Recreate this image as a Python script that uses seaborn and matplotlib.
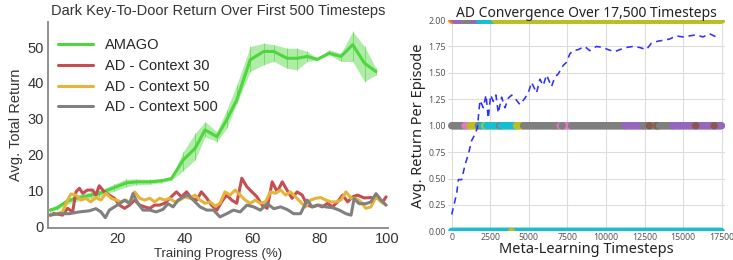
import numpy as np
import pandas as pd
import matplotlib
matplotlib.use("Agg")
import matplotlib.pyplot as plt
import seaborn as sns

# ---- left panel: Dark Key-To-Door, first 500 timesteps ----
amago_x = [0, 2.2, 4.7, 7.2, 9.7, 12.1, 14.6, 16.6, 19.1, 22.6, 25.6, 29.6, 33.0, 36.0,
           39.5, 43.0, 46.0, 49.5, 52.4, 55.4, 59.4, 63.4, 66.4, 70.3, 73.3, 76.3,
           79.3, 82.8, 86.3, 89.8, 93.3, 96.7]
amago_mean = [4.5, 5.2, 6.8, 7.7, 8.2, 8.7, 9.1, 9.9, 10.8, 12.1, 12.4, 12.4, 12.7, 13.3,
              18.5, 21.7, 26.9, 25.0, 29.7, 35.3, 46.5, 48.8, 48.8, 46.9, 46.9, 47.4,
              46.6, 48.3, 47.4, 50.7, 45.5, 43.2]
amago_low = [4.0, 4.6, 6.0, 6.8, 7.3, 7.8, 8.2, 9.0, 9.8, 11.0, 11.6, 11.7, 12.2, 12.8,
             15.5, 18.5, 25.0, 23.6, 27.3, 34.3, 43.2, 45.1, 46.0, 44.1, 43.7, 46.0,
             46.4, 47.9, 46.0, 46.0, 40.4, 42.3]
amago_high = [5.0, 5.8, 7.5, 8.6, 9.1, 9.6, 10.0, 10.8, 11.8, 13.2, 13.2, 13.1, 13.2, 13.8,
              20.8, 25.9, 29.2, 26.4, 32.5, 39.5, 50.2, 51.1, 50.7, 49.7, 49.7, 48.8,
              46.9, 49.3, 48.3, 54.4, 50.2, 44.1]

ctx30_x = [0, 1.2, 3.7, 5.2, 6.7, 7.7, 8.7, 9.7, 11.1, 12.6, 13.6, 14.6, 16.1, 17.6, 19.1,
           20.6, 22.1, 23.6, 25.1, 26.6, 28.1, 29.6, 31.0, 32.5, 34.0, 35.5, 37.5, 39.0,
           40.5, 42.0, 43.5, 44.9, 46.5, 47.9, 49.5, 50.9, 52.4, 53.9, 55.4, 56.9, 58.4,
           59.9, 61.4, 62.9, 64.4, 65.9, 67.4, 68.9, 70.3, 71.8, 73.3, 74.8, 76.3, 77.8,
           79.3, 80.8, 82.3, 83.8, 85.3, 86.8, 88.3, 89.8, 91.2, 93.2, 95.2, 97.2, 98.7, 99.7]
ctx30_y = [3.1, 3.6, 3.1, 5.0, 4.0, 9.6, 10.6, 9.2, 10.1, 10.1, 8.7, 11.3, 9.6, 8.7, 7.8,
           5.9, 5.0, 5.9, 7.3, 5.9, 5.4, 5.0, 5.9, 5.9, 6.4, 7.8, 9.6, 8.2,
           9.6, 7.8, 7.3, 9.6, 7.8, 5.9, 4.5, 6.8, 8.7, 7.3, 6.4, 13.4, 11.0,
           9.6, 8.2, 5.9, 5.0, 12.4, 9.6, 12.4, 10.1, 7.8, 9.6, 8.7, 5.9, 5.4,
           5.9, 5.4, 6.4, 5.4, 6.8, 8.7, 6.8, 8.2, 8.7, 7.9, 8.0, 7.8, 6.8, 8.2]

ctx50_x = [0, 1.7, 3.7, 5.2, 6.2, 7.7, 9.2, 10.6, 12.1, 13.6, 15.1, 16.6, 18.1, 19.6, 21.1,
           22.6, 23.6, 25.1, 26.6, 28.1, 29.6, 31.0, 32.5, 34.0, 35.5, 37.0, 38.5, 40.0,
           41.5, 43.0, 44.5, 46.0, 47.5, 49.0, 50.4, 51.9, 53.4, 54.9, 56.4, 57.9, 59.4,
           60.9, 62.4, 63.9, 65.4, 66.9, 68.4, 69.9, 71.3, 72.8, 74.3, 75.8, 77.3, 78.8,
           80.3, 81.8, 83.3, 84.8, 86.3, 87.8, 89.3, 90.7, 92.2, 93.7, 95.2, 96.7, 98.2, 99.7]
ctx50_y = [3.1, 3.4, 4.0, 7.3, 9.0, 8.7, 7.3, 7.8, 6.8, 8.0, 7.3, 9.2, 7.8, 7.3, 6.8,
           7.3, 6.4, 9.6, 7.8, 7.3, 7.8, 6.8, 7.8, 7.3, 7.8, 6.8, 7.3, 8.2,
           7.8, 8.7, 7.3, 6.4, 6.8, 5.6, 6.4, 9.6, 8.7, 10.1, 8.7, 7.3, 6.4,
           7.3, 6.4, 6.8, 9.6, 9.2, 10.1, 8.7, 9.6, 8.2, 6.8, 5.4, 7.3, 7.8,
           8.0, 7.3, 6.8, 6.8, 7.3, 9.6, 7.8, 7.8, 6.8, 5.0, 5.4, 8.2, 6.8, 5.9]

ctx500_x = [0, 2.7, 5.7, 8.7, 11.6, 13.6, 15.1, 16.4, 17.6, 19.1, 20.6, 22.1, 23.6, 24.6,
            26.1, 27.6, 29.6, 31.5, 33.5, 35.0, 36.5, 38.0, 39.5, 41.0, 42.5, 44.5, 46.5,
            48.5, 50.4, 52.4, 54.4, 56.4, 58.4, 60.4, 62.4, 64.4, 66.4, 68.4, 70.3, 72.3,
            74.3, 76.3, 77.8, 79.8, 81.8, 83.8, 85.8, 87.8, 89.3, 90.2, 91.7, 93.7, 95.2,
            96.7, 98.2, 99.7]
ctx500_y = [3.1, 3.5, 3.5, 4.0, 4.3, 4.9, 4.0, 2.4, 4.5, 5.4, 6.3, 7.3, 6.3, 9.1,
            6.3, 4.5, 4.5, 4.0, 4.7, 6.3, 5.4, 7.3, 8.2, 8.7, 7.3, 5.4, 4.5,
            4.5, 2.6, 3.5, 4.5, 4.0, 5.9, 5.4, 4.5, 6.3, 4.9, 5.4, 4.7, 3.5,
            3.5, 7.3, 5.4, 5.9, 5.4, 5.2, 4.5, 3.5, 3.1, 7.7, 6.3, 6.3, 6.8,
            9.1, 7.3, 5.9]

series_names = ["AMAGO", "AD - Context 30", "AD - Context 50", "AD - Context 500"]
series_colors = ["#4fd63f", "#c44e52", "#e6b43a", "#808080"]

# ---- right panel: AD convergence over 17,500 timesteps ----
conv_x = [0, 323, 430, 646, 862, 1077, 1293, 1508, 1659, 1832, 2047, 2220, 2370, 2521,
          2694, 2866, 3017, 3233, 3448, 3664, 3879, 4095, 4418, 4741, 4957, 5172, 5495,
          5711, 5927, 6142, 6466, 6681, 6897, 7220, 7435, 7651, 7866, 8190, 8621, 8944,
          9375, 9806, 10129, 10560, 10884, 11315, 11746, 12177, 12608, 12931, 13362,
          13793, 14116, 14547, 14978, 15409, 15841, 16272, 16703, 17134, 17349]
conv_y = [0.16, 0.36, 0.49, 0.49, 0.63, 0.73, 0.86, 0.92, 0.98, 1.24, 1.17, 1.29, 1.07, 1.29,
          1.23, 1.29, 1.12, 1.27, 1.17, 1.26, 1.29, 1.26, 1.20, 1.26, 1.31, 1.41, 1.31,
          1.44, 1.38, 1.48, 1.37, 1.46, 1.49, 1.57, 1.60, 1.68, 1.71, 1.72, 1.75, 1.71,
          1.75, 1.74, 1.72, 1.70, 1.72, 1.74, 1.75, 1.74, 1.72, 1.78, 1.80,
          1.81, 1.82, 1.85, 1.84, 1.85, 1.86, 1.84, 1.87, 1.84, 1.85]

# per-episode returns, runs of consecutive timesteps: (start, end, return, run)
ep_start = [0, 0, 200, 800, 1500, 1800, 2800,
            0, 860, 1190, 1720, 1950, 2150, 2370, 3100, 3230, 4200, 4650, 7030, 7200, 7330,
            7760, 11200, 12400, 13300, 13450, 14300]
ep_end = [17500, 200, 800, 1500, 1800, 2800, 17500,
          860, 1190, 1720, 1950, 2150, 2370, 3100, 3230, 4200, 4650, 7030, 7200, 7330, 7760,
          11200, 12400, 13300, 13450, 14300, 17500]
ep_return = [0, 2, 2, 2, 2, 2, 2,
             1, 1, 1, 1, 1, 1, 1, 1, 1, 1, 1, 1, 1, 1,
             1, 1, 1, 1, 1, 1]
ep_run = ["run 9", "run 1", "run 4", "run 7", "run 4", "run 9", "run 8",
          "run 7", "run 6", "run 8", "run 7", "run 9", "run 8", "run 9", "run 7", "run 9",
          "run 8", "run 7", "run 6", "run 7", "run 6",
          "run 7", "run 4", "run 7", "run 5", "run 7", "run 4"]
dot_x = [12800, 15800, 17000, 7150, 2270, 3880]
dot_y = [1, 1, 1, 1, 1, 0]
dot_run = ["run 5", "run 5", "run 5", "run 7", "run 9", "run 8"]
run_colors = {"run 0": "#1f77b4", "run 1": "#ff7f0e", "run 2": "#2ca02c", "run 3": "#d62728",
              "run 4": "#9467bd", "run 5": "#8c564b", "run 6": "#e377c2", "run 7": "#7f7f7f",
              "run 8": "#bcbd22", "run 9": "#17becf"}

# ---------------------------------------------------------------
fig = plt.figure(figsize=(7.33, 2.6), dpi=100)

# left panel
sns.set_style("white")
plt.rcParams["font.family"] = ["Liberation Sans", "DejaVu Sans"]
ax1 = fig.add_axes([0.0655, 0.123, 0.464, 0.792])

rows = []
for name, xs, ys in [(series_names[0], amago_x, amago_mean), (series_names[1], ctx30_x, ctx30_y),
                     (series_names[2], ctx50_x, ctx50_y), (series_names[3], ctx500_x, ctx500_y)]:
    rows.append(pd.DataFrame({"x": xs, "y": ys, "series": name}))
left_df = pd.concat(rows, ignore_index=True)

ax1.fill_between(amago_x, amago_low, amago_high, color=series_colors[0], alpha=0.45, lw=0)
ax1.vlines(amago_x, amago_low, amago_high, color=series_colors[0], lw=0.6, alpha=0.7)
sns.lineplot(data=left_df, x="x", y="y", hue="series", hue_order=series_names,
             palette=dict(zip(series_names, series_colors)), lw=2.2, ax=ax1,
             estimator=None, sort=False)

ax1.set_xlim(-0.6, 100.3)
ax1.set_ylim(-0.5, 57)
ax1.set_xticks([20, 40, 60, 80, 100])
ax1.set_yticks([0, 10, 20, 30, 40, 50])
ax1.tick_params(labelsize=10.5, colors="#333333", length=0, pad=3)
for s in ["top", "right"]:
    ax1.spines[s].set_visible(False)
for s in ["left", "bottom"]:
    ax1.spines[s].set_color("#888888")
    ax1.spines[s].set_linewidth(1.3)
ax1.set_title("Dark Key-To-Door Return Over First 500 Timesteps", fontsize=10.5, color="#333333", pad=5)
ax1.set_xlabel("Training Progress (%)", fontsize=9.5, color="#333333", labelpad=1)
ax1.set_ylabel("Avg. Total Return", fontsize=10.5, color="#333333", labelpad=3)
ax1.legend(loc="upper left", frameon=False, fontsize=10.5, handlelength=2.4,
           labelspacing=0.45, borderaxespad=0.3, handletextpad=0.8, bbox_to_anchor=(0.0, 0.97))

# right panel
sns.set_style("whitegrid")
plt.rcParams["font.family"] = ["Noto Sans", "DejaVu Sans"]
ax2 = fig.add_axes([0.611, 0.11, 0.378, 0.813])

pts = []
for a, b, r, run in zip(ep_start, ep_end, ep_return, ep_run):
    xs = np.arange(a, b + 1, 60)
    pts.append(pd.DataFrame({"t": xs, "ret": float(r), "run": run}))
pts.append(pd.DataFrame({"t": dot_x, "ret": dot_y, "run": dot_run}))
right_df = pd.concat(pts, ignore_index=True)

sns.scatterplot(data=right_df, x="t", y="ret", hue="run", palette=run_colors, s=28,
                linewidth=0, legend=False, ax=ax2)
sns.lineplot(x=conv_x, y=conv_y, color="#2f2fff", lw=1.15, ax=ax2, estimator=None)
ax2.lines[-1].set_dashes((4, 3))

ax2.set_xlim(-250, 17700)
ax2.set_ylim(0, 2)
ax2.set_xticks(np.arange(0, 17501, 2500))
ax2.set_yticks(np.arange(0, 2.01, 0.25))
ax2.yaxis.set_major_formatter(matplotlib.ticker.FormatStrFormatter("%.2f"))
ax2.grid(color="#dddddd", lw=0.8)
ax2.tick_params(labelsize=6.3, colors="#555555", length=0, pad=1.5)
for s in ax2.spines.values():
    s.set_visible(False)
ax2.set_title("AD Convergence Over 17,500 Timesteps", fontsize=10, color="#222222", pad=2)
ax2.set_xlabel("Meta-Learning Timesteps", fontsize=10.5, color="#222222", labelpad=0)
ax2.set_ylabel("Avg. Return Per Episode", fontsize=10.5, color="#222222", labelpad=2)

fig.savefig("out.png", dpi=100)
